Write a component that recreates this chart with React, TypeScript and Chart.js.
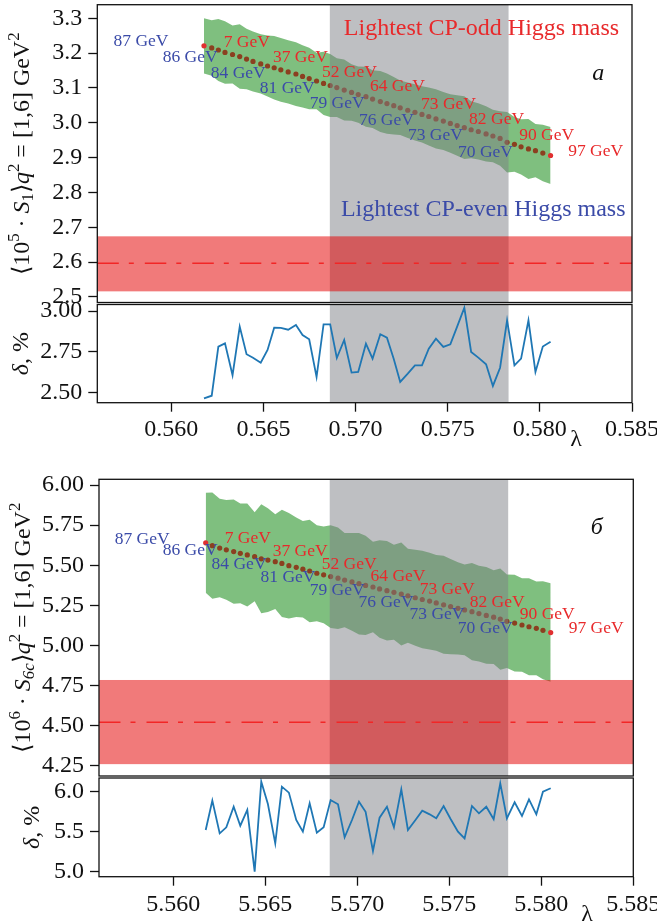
import React, { useEffect, useRef } from 'react';
import { Chart, registerables } from 'chart.js';
Chart.register(...registerables);

const FONT = '"Liberation Serif", "Times New Roman", serif';

// ---------- data ----------
const lambdaTop = [0.56177, 0.56219, 0.56255, 0.56291, 0.56332, 0.56371, 0.56408, 0.56443, 0.56485, 0.56522,
  0.56558, 0.56594, 0.56634, 0.56676, 0.56712, 0.56748, 0.56788, 0.56826, 0.56862, 0.56898,
  0.56938, 0.56978, 0.57014, 0.57056, 0.57092, 0.57134, 0.57170, 0.57207, 0.57242, 0.57283,
  0.57322, 0.57360, 0.57397, 0.57436, 0.57476, 0.57514, 0.57551, 0.57590, 0.57627, 0.57666,
  0.57708, 0.57745, 0.57784, 0.57822, 0.57862, 0.57898, 0.57938, 0.57976, 0.58016, 0.58058];

const centralTop = [3.221, 3.215, 3.209, 3.202, 3.196, 3.190, 3.183, 3.176, 3.169, 3.163,
  3.158, 3.152, 3.146, 3.140, 3.133, 3.127, 3.120, 3.113, 3.107, 3.101,
  3.094, 3.087, 3.081, 3.075, 3.068, 3.061, 3.055, 3.049, 3.043, 3.036,
  3.030, 3.024, 3.018, 3.011, 3.005, 2.998, 2.992, 2.986, 2.980, 2.975,
  2.968, 2.962, 2.955, 2.944, 2.938, 2.931, 2.925, 2.920, 2.913, 2.906];

const deltaTop = [2.463, 2.479, 2.781, 2.801, 2.605, 2.904, 2.734, 2.713, 2.682, 2.760,
  2.897, 2.896, 2.885, 2.914, 2.852, 2.826, 2.594, 2.918, 2.918, 2.711,
  2.822, 2.621, 2.625, 2.799, 2.707, 2.857, 2.836, 2.705, 2.564, 2.615,
  2.666, 2.666, 2.768, 2.830, 2.779, 2.795, 2.904, 3.020, 2.748, 2.713,
  2.672, 2.539, 2.651, 2.943, 2.666, 2.707, 2.943, 2.625, 2.781, 2.811];

const lambdaBottom = [5.56176, 5.56212, 5.56252, 5.56288, 5.56328, 5.56364, 5.56402, 5.56442, 5.56478, 5.56514,
  5.56554, 5.56590, 5.56628, 5.56668, 5.56704, 5.56741, 5.56780, 5.56817, 5.56855, 5.56895,
  5.56931, 5.56971, 5.57009, 5.57045, 5.57085, 5.57121, 5.57161, 5.57199, 5.57239, 5.57275,
  5.57315, 5.57353, 5.57393, 5.57429, 5.57469, 5.57507, 5.57547, 5.57583, 5.57623, 5.57661,
  5.57701, 5.57741, 5.57777, 5.57813, 5.57855, 5.57895, 5.57933, 5.57973, 5.58009, 5.58051];

const centralBottom = [5.640, 5.622, 5.607, 5.596, 5.585, 5.574, 5.564, 5.553, 5.540, 5.532,
  5.522, 5.511, 5.497, 5.487, 5.475, 5.464, 5.450, 5.440, 5.429, 5.419,
  5.407, 5.396, 5.385, 5.374, 5.364, 5.352, 5.341, 5.331, 5.320, 5.309,
  5.297, 5.286, 5.276, 5.265, 5.253, 5.242, 5.231, 5.221, 5.210, 5.198,
  5.187, 5.176, 5.164, 5.150, 5.139, 5.127, 5.116, 5.106, 5.094, 5.080];

const deltaBottom = [5.522, 5.891, 5.480, 5.556, 5.815, 5.576, 5.774, 4.998, 6.130, 5.849,
  5.354, 6.067, 5.992, 5.648, 5.501, 5.857, 5.488, 5.556, 5.899, 5.845,
  5.430, 5.648, 5.878, 5.752, 5.258, 5.677, 5.815, 5.556, 6.034, 5.522,
  5.644, 5.765, 5.719, 5.669, 5.824, 5.660, 5.501, 5.417, 5.824, 5.732,
  5.815, 5.657, 6.109, 5.669, 5.870, 5.698, 5.908, 5.719, 6.004, 6.047];

// horizontal (experimental) band and vertical (allowed-lambda) band
const expBandTop = [2.516, 2.674];
const expCentralTop = 2.597;
const expBandBottom = [4.259, 4.784];
const expCentralBottom = 4.52;
const grayBandTop = [0.5686, 0.5783];
const grayBandBottom = [5.5685, 5.5782];

// tick labels
const xTicksTop = [0.560, 0.565, 0.570, 0.575, 0.580, 0.585];
const xTicksBottom = [5.560, 5.565, 5.570, 5.575, 5.580, 5.585];
const yTicksMainTop = [2.5, 2.6, 2.7, 2.8, 2.9, 3.0, 3.1, 3.2, 3.3];
const yTicksDeltaTop = [2.50, 2.75, 3.00];
const yTicksMainBottom = [4.25, 4.50, 4.75, 5.00, 5.25, 5.50, 5.75, 6.00];
const yTicksDeltaBottom = [5.0, 5.5, 6.0];

// mass annotations
const labelText = ['87 GeV', '86 GeV', '7 GeV', '84 GeV', '37 GeV', '81 GeV', '52 GeV', '79 GeV',
  '64 GeV', '76 GeV', '73 GeV', '73 GeV', '82 GeV', '70 GeV', '90 GeV', '97 GeV'];
const labelKind = ['e', 'e', 'o', 'e', 'o', 'e', 'o', 'e', 'o', 'e', 'o', 'e', 'o', 'e', 'o', 'o'];
const labelXTop = [0.55686, 0.55953, 0.56284, 0.56214, 0.56551, 0.56480, 0.56817, 0.56751,
  0.57078, 0.57018, 0.57355, 0.57284, 0.57616, 0.57556, 0.57888, 0.58154];
const labelYTop = [3.235, 3.189, 3.232, 3.143, 3.189, 3.100, 3.146, 3.057,
  3.103, 3.008, 3.054, 2.965, 3.011, 2.916, 2.965, 2.919];
const labelXBottom = [5.55681, 5.55942, 5.56279, 5.56208, 5.56540, 5.56474, 5.56806, 5.56741,
  5.57072, 5.57007, 5.57339, 5.57284, 5.57611, 5.57546, 5.57883, 5.58149];
const labelYBottom = [5.663, 5.590, 5.670, 5.507, 5.589, 5.426, 5.507, 5.342,
  5.433, 5.266, 5.352, 5.196, 5.266, 5.108, 5.196, 5.108];

// ---------- styles ----------
const GREEN = 'rgba(0,128,0,0.5)';
const GRAY = 'rgba(126,127,134,0.5)';
const RED_BAND = 'rgba(228,0,0,0.52)';
const BROWN = '#8b4020';
const END_RED = '#e03030';
const TXT_RED = '#e8292b';
const TXT_BLUE = '#3b4ba8';
const LINE_BLUE = '#1f77b4';

type Seg = { t: string; it?: boolean; sup?: boolean; sub?: boolean };

function drawRich(ctx: any, segs: Seg[], cx: number, cy: number, size: number) {
  ctx.save();
  ctx.translate(cx, cy);
  ctx.rotate(-Math.PI / 2);
  const fontFor = (s: Seg) => `${s.it ? 'italic ' : ''}${(s.sup || s.sub) ? size * 0.7 : size}px ${FONT}`;
  let total = 0;
  const w = segs.map((s) => { ctx.font = fontFor(s); const m = ctx.measureText(s.t).width; total += m; return m; });
  let x = -total / 2;
  ctx.textBaseline = 'alphabetic';
  ctx.textAlign = 'left';
  ctx.fillStyle = '#111';
  const base = size * 0.34;
  segs.forEach((s, i) => {
    ctx.font = fontFor(s);
    const dy = s.sup ? -size * 0.4 : s.sub ? size * 0.2 : 0;
    ctx.fillText(s.t, x, base + dy);
    x += w[i];
  });
  ctx.restore();
}

function frame(chart: any) {
  const { ctx, chartArea: a } = chart;
  ctx.save();
  ctx.strokeStyle = '#111';
  ctx.lineWidth = 1.3;
  ctx.strokeRect(a.left, a.top, a.right - a.left, a.bottom - a.top);
  ctx.restore();
}

function yAxisCfg(min: number, max: number, ticks: number[], dec: number, width: number) {
  return {
    type: 'linear', position: 'left', min, max,
    afterBuildTicks: (s: any) => { s.ticks = ticks.map((v) => ({ value: v })); },
    afterFit: (s: any) => { s.width = width; s.paddingTop = 0; s.paddingBottom = 0; },
    ticks: { autoSkip: false, font: { family: FONT, size: 24 }, color: '#111', padding: 6,
      callback: (v: any) => Number(v).toFixed(dec) },
    grid: { display: true, drawOnChartArea: false, drawTicks: true, tickLength: 9, tickWidth: 1.3, tickColor: '#111' },
    border: { display: false },
  };
}

function mainChart(canvas: HTMLCanvasElement, p: any) {
  const n = p.lam.length;
  // green band = central value ± δ (the δ panel below is its relative half-width)
  const upper = p.central.map((c: number, i: number) => ({ x: p.lam[i], y: c * (1 + p.delta[i] / 100) }));
  const lower = p.central.map((c: number, i: number) => ({ x: p.lam[i], y: c * (1 - p.delta[i] / 100) }));
  const dots = p.central.map((c: number, i: number) => ({ x: p.lam[i], y: c }));
  const overlay = {
    id: 'overlay',
    afterDatasetsDraw(chart: any) {
      const { ctx, chartArea: a, scales: { x, y } } = chart;
      ctx.save();
      ctx.beginPath();
      ctx.rect(a.left, a.top, a.right - a.left, a.bottom - a.top);
      ctx.clip();
      const gx0 = x.getPixelForValue(p.gray[0]);
      const gx1 = x.getPixelForValue(p.gray[1]);
      ctx.fillStyle = GRAY;
      ctx.fillRect(gx0, a.top, gx1 - gx0, a.bottom - a.top);
      const ry0 = y.getPixelForValue(p.band[1]);
      const ry1 = y.getPixelForValue(p.band[0]);
      ctx.fillStyle = RED_BAND;
      ctx.fillRect(a.left, ry0, a.right - a.left, ry1 - ry0);
      const yc = y.getPixelForValue(p.bandCentral);
      ctx.strokeStyle = '#f22626';
      ctx.lineWidth = 1.5;
      ctx.setLineDash([21.5, 10, 5, 11]);
      ctx.beginPath();
      ctx.moveTo(a.left, yc);
      ctx.lineTo(a.right, yc);
      ctx.stroke();
      ctx.setLineDash([]);
      ctx.restore();

      ctx.save();
      ctx.textBaseline = 'middle';
      ctx.textAlign = 'left';
      ctx.font = `17.5px ${FONT}`;
      labelText.forEach((t, i) => {
        ctx.fillStyle = labelKind[i] === 'o' ? TXT_RED : TXT_BLUE;
        ctx.fillText(t, x.getPixelForValue(p.labX[i]), y.getPixelForValue(p.labY[i]));
      });
      if (p.headers) {
        ctx.font = `24px ${FONT}`;
        ctx.fillStyle = TXT_RED;
        ctx.fillText('Lightest CP-odd Higgs mass', x.getPixelForValue(p.headers.oddX), y.getPixelForValue(p.headers.oddY));
        ctx.fillStyle = TXT_BLUE;
        ctx.fillText('Lightest CP-even Higgs mass', x.getPixelForValue(p.headers.evenX), y.getPixelForValue(p.headers.evenY));
      }
      ctx.font = `italic 24px ${FONT}`;
      ctx.fillStyle = '#111';
      ctx.textAlign = 'center';
      ctx.fillText(p.letter, x.getPixelForValue(p.letterX), y.getPixelForValue(p.letterY));
      ctx.restore();
    },
    afterDraw(chart: any) {
      frame(chart);
      const a = chart.chartArea;
      drawRich(chart.ctx, p.title, p.titleX, (a.top + a.bottom) / 2, 24);
    },
  };
  return new Chart(canvas, {
    type: 'line',
    data: {
      datasets: [
        { data: upper, fill: '+1', backgroundColor: GREEN, borderWidth: 0, pointRadius: 0, tension: 0, order: 3 },
        { data: lower, fill: false, borderWidth: 0, pointRadius: 0, tension: 0, order: 3 },
        { data: dots, showLine: false, pointRadius: 2.6, pointBorderWidth: 0, order: 1,
          pointBackgroundColor: (c: any) => (c.dataIndex === 0 || c.dataIndex === n - 1 ? END_RED : BROWN) },
      ],
    },
    options: {
      responsive: false, animation: false,
      layout: { padding: { top: p.padTop, bottom: p.padBottom, left: 0, right: p.padRight } },
      plugins: { legend: { display: false }, tooltip: { enabled: false } },
      scales: {
        x: { type: 'linear', min: p.xMin, max: p.xMax, display: false },
        y: yAxisCfg(p.yMin, p.yMax, p.yTicks, p.dec, p.axisW),
      },
    } as any,
    plugins: [overlay],
  } as any);
}

function deltaChart(canvas: HTMLCanvasElement, p: any) {
  const pts = p.delta.map((d: number, i: number) => ({ x: p.lam[i], y: d }));
  const overlay = {
    id: 'overlayDelta',
    beforeDatasetsDraw(chart: any) {
      const { ctx, chartArea: a, scales: { x } } = chart;
      const gx0 = x.getPixelForValue(p.gray[0]);
      const gx1 = x.getPixelForValue(p.gray[1]);
      ctx.save();
      ctx.fillStyle = GRAY;
      ctx.fillRect(gx0, a.top, gx1 - gx0, a.bottom - a.top);
      ctx.restore();
    },
    afterDraw(chart: any) {
      frame(chart);
      const { ctx, chartArea: a } = chart;
      drawRich(ctx, [{ t: 'δ', it: true }, { t: ', %' }], p.titleX, (a.top + a.bottom) / 2, 24);
      ctx.save();
      ctx.font = `24px ${FONT}`;
      ctx.fillStyle = '#111';
      ctx.textAlign = 'center';
      ctx.textBaseline = 'middle';
      ctx.fillText('λ', p.lamLabelX, a.bottom + p.lamLabelDy);
      ctx.restore();
    },
  };
  return new Chart(canvas, {
    type: 'line',
    data: {
      datasets: [
        { data: pts, borderColor: LINE_BLUE, borderWidth: 1.8, pointRadius: 0, tension: 0, fill: false },
      ],
    },
    options: {
      responsive: false, animation: false,
      layout: { padding: { top: p.padTop, bottom: 0, left: 0, right: p.padRight } },
      plugins: { legend: { display: false }, tooltip: { enabled: false } },
      scales: {
        x: {
          type: 'linear', position: 'bottom', min: p.xMin, max: p.xMax,
          afterBuildTicks: (s: any) => { s.ticks = p.xTicks.map((v: number) => ({ value: v })); },
          afterFit: (s: any) => { s.height = p.xAxisH; s.paddingLeft = 0; s.paddingRight = 0; },
          ticks: { autoSkip: false, maxRotation: 0, minRotation: 0, font: { family: FONT, size: 24 }, color: '#111', padding: p.xLabPad,
            callback: (v: any) => Number(v).toFixed(3) },
          grid: { display: true, drawOnChartArea: false, drawTicks: true, tickLength: 9, tickWidth: 1.3, tickColor: '#111' },
          border: { display: false },
        },
        y: yAxisCfg(p.yMin, p.yMax, p.yTicks, p.dec, p.axisW),
      },
    } as any,
    plugins: [overlay],
  } as any);
}

export default function App() {
  const c1 = useRef<HTMLCanvasElement>(null);
  const c2 = useRef<HTMLCanvasElement>(null);
  const c3 = useRef<HTMLCanvasElement>(null);
  const c4 = useRef<HTMLCanvasElement>(null);

  useEffect(() => {
    const charts: any[] = [];
    charts.push(mainChart(c1.current as HTMLCanvasElement, {
      lam: lambdaTop, central: centralTop, delta: deltaTop,
      xMin: 0.55598, xMax: 0.585, yMin: 2.484, yMax: 3.339, yTicks: yTicksMainTop, dec: 1,
      padTop: 4.7, padBottom: 7.5, padRight: 25, axisW: 97.3,
      gray: grayBandTop, band: expBandTop, bandCentral: expCentralTop,
      labX: labelXTop, labY: labelYTop,
      headers: { oddX: 0.56936, oddY: 3.269, evenX: 0.56920, evenY: 2.750 },
      letter: 'а', letterX: 0.58317, letterY: 3.140,
      titleX: 20.5,
      title: [{ t: '⟨10' }, { t: '5', sup: true }, { t: ' · ' }, { t: 'S', it: true }, { t: '1', sub: true },
        { t: '⟩' }, { t: 'q', it: true }, { t: '2', sup: true }, { t: ' = [1,6] GeV' }, { t: '2', sup: true }],
    }));
    charts.push(deltaChart(c2.current as HTMLCanvasElement, {
      lam: lambdaTop, delta: deltaTop, xMin: 0.55598, xMax: 0.585, xTicks: xTicksTop,
      yMin: 2.436, yMax: 3.040, yTicks: yTicksDeltaTop, dec: 2,
      padTop: 8.5, padRight: 25, axisW: 97.3, xAxisH: 43.3, xLabPad: 4,
      gray: grayBandTop, titleX: 19.5, lamLabelX: 576, lamLabelDy: 37,
    }));
    charts.push(mainChart(c3.current as HTMLCanvasElement, {
      lam: lambdaBottom, central: centralBottom, delta: deltaBottom,
      xMin: 5.55596, xMax: 5.585, yMin: 4.185, yMax: 6.036, yTicks: yTicksMainBottom, dec: 2,
      padTop: 9.3, padBottom: 3.5, padRight: 23.7, axisW: 99,
      gray: grayBandBottom, band: expBandBottom, bandCentral: expCentralBottom,
      labX: labelXBottom, labY: labelYBottom,
      headers: null,
      letter: 'б', letterX: 5.58301, letterY: 5.732,
      titleX: 21.5,
      title: [{ t: '⟨10' }, { t: '6', sup: true }, { t: ' · ' }, { t: 'S', it: true }, { t: '6c', sub: true, it: true },
        { t: '⟩' }, { t: 'q', it: true }, { t: '2', sup: true }, { t: ' = [1,6] GeV' }, { t: '2', sup: true }],
    }));
    charts.push(deltaChart(c4.current as HTMLCanvasElement, {
      lam: lambdaBottom, delta: deltaBottom, xMin: 5.55596, xMax: 5.585, xTicks: xTicksBottom,
      yMin: 4.935, yMax: 6.176, yTicks: yTicksDeltaBottom, dec: 1,
      padTop: 8, padRight: 23.7, axisW: 99, xAxisH: 47.3, xLabPad: 5,
      gray: grayBandBottom, titleX: 31, lamLabelX: 587, lamLabelDy: 38,
    }));
    return () => { charts.forEach((c) => c.destroy()); };
  }, []);

  const cs = (top: number, h: number): React.CSSProperties => ({ position: 'absolute', left: 0, top, width: 657, height: h });
  return (
    <div style={{ position: 'absolute', left: 0, top: 0, width: 657, height: 924, background: '#fff', overflow: 'hidden' }}>
      <canvas ref={c1} width={657} height={310} style={cs(0, 310)} />
      <canvas ref={c2} width={657} height={150} style={cs(296, 150)} />
      <canvas ref={c3} width={657} height={310} style={cs(470, 310)} />
      <canvas ref={c4} width={657} height={154} style={cs(770, 154)} />
    </div>
  );
}
